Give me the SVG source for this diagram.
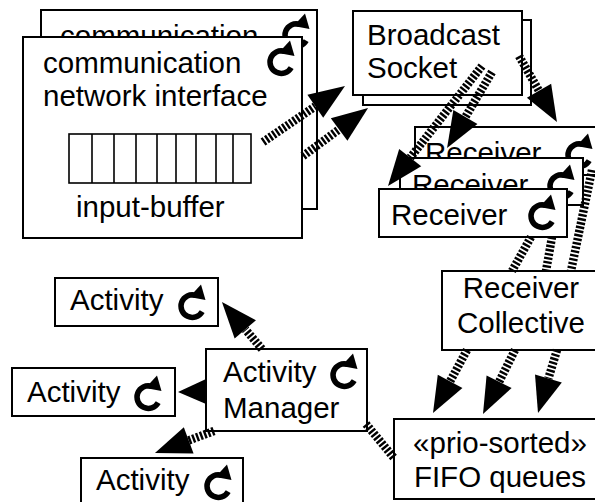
<svg xmlns="http://www.w3.org/2000/svg" xmlns:xlink="http://www.w3.org/1999/xlink" width="595" height="502" viewBox="0 0 595 502">
  <style>
    .box { fill: #fff; stroke: #000; stroke-width: 2; }
    .cell { fill: none; stroke: #000; stroke-width: 1.6; }
    .t { font-family: "Liberation Sans", Arial, Helvetica, sans-serif; font-size: 29.5px; fill: #000; }
    .mid { text-anchor: middle; }
    .hatch { fill: none; stroke: #000; stroke-width: 8.5; stroke-dasharray: 2.4 1.7; }
    .arrow { marker-end: url(#head); }
    .head { fill: #000; stroke: none; }
  </style>
  <defs>
    <!-- filled wedge arrowhead, starts where the hatched line ends -->
    <marker id="head" markerUnits="userSpaceOnUse" viewBox="0 0 36 28" markerWidth="36" markerHeight="28" refX="0" refY="14" orient="auto" overflow="visible">
      <path d="M0,0 L36,14 L0,28 z" fill="#000"/>
    </marker>
    <!-- active-object rotation glyph, centred on the ring -->
    <g id="cyc">
      <path d="M10.2,5.6 A11.3,11.3 0 1 1 3.6,-10.7" fill="none" stroke="#000" stroke-width="5.5"/>
      <path d="M-2.5,-9 L13.5,-6 L9,-21.5 z" fill="#000"/>
    </g>
  </defs>

  <!-- communication network interface (stacked) -->
  <g id="comm-back">
    <rect class="box" x="41" y="10" width="276" height="199"/>
    <text class="t" x="60" y="46">communication</text>
    <use xlink:href="#cyc" x="296" y="35"/>
  </g>
  <g id="comm-front">
    <rect class="box" x="23" y="37" width="279" height="201"/>
    <text class="t" x="43" y="73">communication</text>
    <text class="t" x="43" y="106">network interface</text>
    <use xlink:href="#cyc" x="281" y="62"/>
    <g id="input-buffer">
      <rect class="cell" x="69" y="134" width="182" height="49"/>
      <path class="cell" d="M92,134V183 M114,134V183 M136,134V183 M157,134V183 M176,134V183 M196,134V183 M216,134V183 M233,134V183"/>
      <text class="t" x="76" y="217">input-buffer</text>
    </g>
  </g>

  <!-- broadcast socket (stacked) -->
  <g id="socket">
    <rect class="box" x="363" y="20" width="168" height="85"/>
    <rect class="box" x="353" y="11" width="169" height="84"/>
    <text class="t" x="367" y="45">Broadcast</text>
    <text class="t" x="367" y="78">Socket</text>
  </g>

  <!-- receivers (stacked, back to front) -->
  <g id="receiver-3">
    <rect class="box" x="415" y="127" width="190" height="48"/>
    <text class="t" x="425" y="163">Receiver</text>
    <use xlink:href="#cyc" x="579" y="155"/>
  </g>
  <g id="receiver-2">
    <rect class="box" x="400" y="158" width="183" height="47"/>
    <text class="t" x="412" y="195">Receiver</text>
    <use xlink:href="#cyc" x="561" y="186"/>
  </g>
  <g id="receiver-1">
    <rect class="box" x="379" y="189" width="188" height="48"/>
    <text class="t" x="391" y="225">Receiver</text>
    <use xlink:href="#cyc" x="542" y="216"/>
  </g>

  <g id="collective">
    <rect class="box" x="442" y="271" width="160" height="79"/>
    <text class="t mid" x="521" y="298">Receiver</text>
    <text class="t mid" x="521" y="333">Collective</text>
  </g>

  <g id="fifo">
    <rect class="box" x="394" y="419" width="208" height="80"/>
    <text class="t mid" x="500" y="453">«prio-sorted»</text>
    <text class="t mid" x="500" y="487">FIFO queues</text>
  </g>

  <g id="manager">
    <rect class="box" x="206" y="349" width="161" height="82"/>
    <text class="t" x="223" y="382">Activity</text>
    <text class="t" x="223" y="418">Manager</text>
    <use xlink:href="#cyc" x="344" y="375"/>
  </g>

  <g id="activity-1">
    <rect class="box" x="55" y="278" width="163" height="48"/>
    <text class="t" x="70" y="310">Activity</text>
    <use xlink:href="#cyc" x="192" y="306"/>
  </g>
  <g id="activity-2">
    <rect class="box" x="12" y="368" width="163" height="48"/>
    <text class="t" x="27" y="402">Activity</text>
    <use xlink:href="#cyc" x="148" y="397"/>
  </g>
  <g id="activity-3">
    <rect class="box" x="81" y="458" width="162" height="50"/>
    <text class="t" x="96" y="490">Activity</text>
    <use xlink:href="#cyc" x="218" y="486"/>
  </g>

  <!-- connectors -->
  <g id="connectors">
    <!-- interface to socket -->
    <path class="hatch arrow" d="M263,142 L315.3,106.3"/>
    <path class="hatch arrow" d="M303,156 L339.1,129.4"/>
    <!-- socket to receivers -->
    <path class="hatch arrow" d="M519,56 L539,90.8"/>
    <path class="hatch arrow" d="M492,72 L465.4,117"/>
    <path class="hatch arrow" d="M482,66 L410.2,157.7"/>
    <!-- receivers to collective -->
    <path class="hatch" d="M531,237 L512,271"/>
    <path class="hatch" d="M552,237 L546,271"/>
    <path class="hatch" d="M592,170 L571,271"/>
    <!-- collective to queues -->
    <path class="hatch arrow" d="M467,350 L450.1,381.3"/>
    <path class="hatch arrow" d="M515,350 L499.1,381.8"/>
    <path class="hatch arrow" d="M557,350 L548.4,378.5"/>
    <!-- manager to queues -->
    <path class="hatch" d="M366,424 L394,458"/>
    <!-- manager to activities -->
    <path class="hatch arrow" d="M262,349 L245.3,329.4"/>
    <polygon class="head" points="206,379 206,404 178,392"/>
    <path class="hatch arrow" d="M214,431 L188.7,440.4"/>
  </g>
</svg>
